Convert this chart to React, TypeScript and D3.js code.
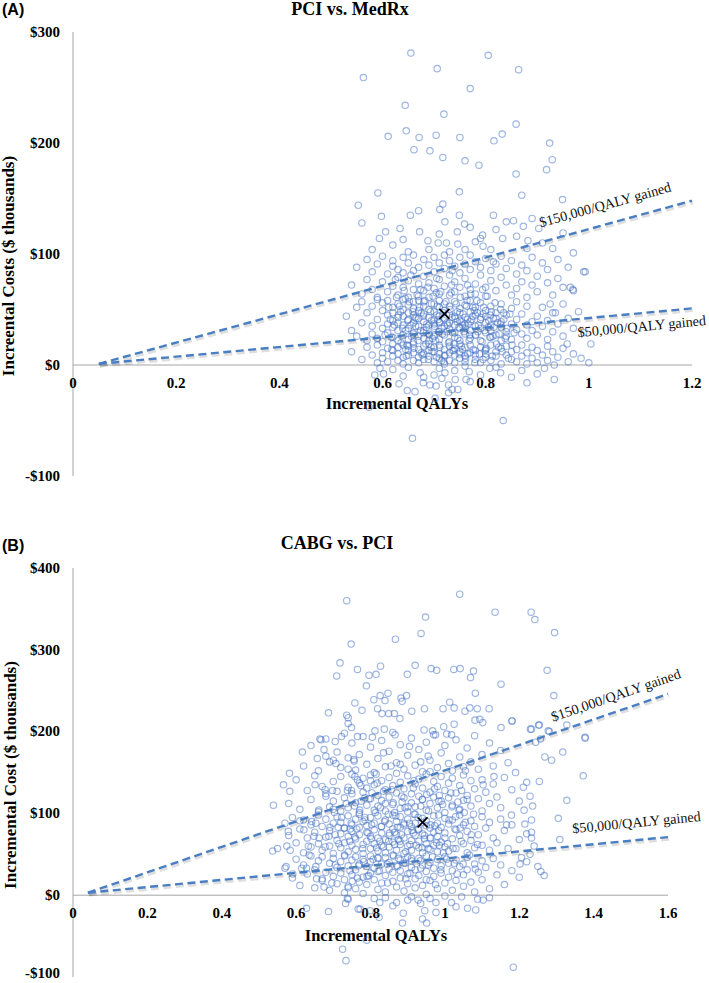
import React from "react";
import * as d3 from "d3";

// ---------- DATA ----------
const titleA = "PCI vs. MedRx";
const titleB = "CABG vs. PCI";
const tagA = "(A)";
const tagB = "(B)";
const yLabelA = "Increental Costs ($ thousands)";
const yLabelB = "Incremental Cost ($ thousands)";
const xLabel = "Incremental QALYs";

const xTicksA = [0, 0.2, 0.4, 0.6, 0.8, 1, 1.2];
const yTicksA = [-100, 0, 100, 200, 300];
const xTicksB = [0, 0.2, 0.4, 0.6, 0.8, 1, 1.2, 1.4, 1.6];
const yTicksB = [-100, 0, 100, 200, 300, 400];

// WTP threshold lines (QALY, $ thousands)
const wtpA = [
  { label: "$150,000/QALY gained", from: [0.05, 1], to: [1.2, 148] },
  { label: "$50,000/QALY gained", from: [0.05, 1], to: [1.2, 51] },
];
const wtpB = [
  { label: "$150,000/QALY gained", from: [0.04, 3], to: [1.6, 246] },
  { label: "$50,000/QALY gained", from: [0.04, 3], to: [1.6, 71] },
];

const meanA = [0.72, 46];
const meanB = [0.94, 89];

// PCI vs MedRx simulations: [incremental QALY, incremental cost ($k)]
const pciMedRx = [
[.655,281],[.805,279],[.563,259],[.706,267],[.864,266],[.770,249],[.644,234],[.719,226],[.611,206],[.646,211],[.671,205],[.704,207],[.750,205],[.816,202],[.832,208],[.859,217],[.924,200],[.929,185],[.918,176],[.661,194],[.692,193],[.717,187],[.760,184],[.787,180],[.859,172],[.591,155],[.749,156],[.870,153],[.949,149],[.553,144],[.717,145],
[.598,134],[.654,135],[.711,140],[.749,135],[.854,130],[.873,125],[.634,123],[.606,120],[.672,120],[.721,129],[.759,127],[.594,114],[.745,120],[.794,117],[.833,114],[.903,123],[.688,112],[.708,110],[.724,110],[.746,109],[.780,111],[.790,114],[.795,107],[.882,112],
[.56,128],[.58,104],[.62,108],[.65,102],[.67,139],[.69,104],[.71,118],[.73,102],[.76,104],[.77,124],[.81,104],[.82,122],[.84,129],[.86,116],[.88,105],[.89,132],[.91,110],[.93,105],[.95,119],[.97,101],[.64,113],[.815,135],
[.993,84],[.969,68],[.964,70],[1.0,2],[1.004,19],[.958,19],[.935,47],[.925,55],
[.54,72],[.55,88],[.56,64],[.57,95],[.57,77],[.58,68],[.58,84],[.59,91],[.59,61],[.60,75],[.60,98],[.61,82],[.61,66],[.62,89],[.62,71],[.62,94],[.63,63],[.63,79],[.63,86],[.64,97],[.64,70],[.64,83],[.65,61],[.65,76],[.65,92],[.66,68],[.66,85],[.66,99],[.67,73],[.67,62],[.67,88],[.68,80],[.68,95],[.68,67],[.69,74],[.69,90],[.69,61],[.70,84],[.70,69],[.70,97],[.71,77],[.71,64],[.71,92],[.72,87],[.72,71],[.72,99],[.73,81],[.73,63],[.73,94],[.74,75],[.74,89],[.74,66],[.75,83],[.75,97],[.75,70],[.76,62],[.76,78],[.76,91],[.77,86],[.77,68],[.77,99],[.78,73],[.78,93],[.78,64],[.79,81],[.79,88],[.80,70],[.80,96],[.80,62],[.81,85],[.81,76],[.82,91],[.82,67],[.83,79],[.83,98],[.84,72],[.84,87],[.85,63],[.85,94],[.86,82],[.86,69],[.87,90],[.87,75],[.88,61],[.88,85],[.89,97],[.89,72],[.90,80],[.90,66],[.91,92],[.92,74],[.92,86],[.93,63],[.94,95],[.94,78],[.95,70],[.96,88],[.97,67],[.99,84],[.705,78],[.735,85],[.765,72],[.815,93],[.655,81],[.625,77],
[.53,44],[.54,31],[.55,52],[.55,26],[.56,38],[.56,57],[.57,22],[.57,47],[.58,35],[.58,53],[.58,28],[.59,41],[.59,59],[.59,24],[.60,33],[.60,49],[.60,21],[.60,56],[.61,37],[.61,45],[.61,29],[.61,58],[.62,25],[.62,40],[.62,52],[.62,34],[.62,47],[.63,22],[.63,43],[.63,55],[.63,31],[.63,38],[.64,27],[.64,50],[.64,36],[.64,59],[.64,44],[.65,23],[.65,41],[.65,33],[.65,54],[.65,47],[.66,29],[.66,38],[.66,57],[.66,21],[.66,45],[.66,51],[.67,35],[.67,26],[.67,49],[.67,42],[.67,58],[.68,31],[.68,53],[.68,24],[.68,39],[.68,46],[.68,57],[.69,28],[.69,36],[.69,50],[.69,43],[.69,22],[.70,33],[.70,55],[.70,41],[.70,26],[.70,48],[.70,37],[.71,30],[.71,52],[.71,44],[.71,23],[.71,39],[.71,58],[.72,35],[.72,27],[.72,49],[.72,42],[.72,55],[.73,32],[.73,46],[.73,21],[.73,38],[.73,53],[.74,25],[.74,44],[.74,36],[.74,57],[.74,29],[.75,40],[.75,51],[.75,33],[.75,22],[.75,47],[.76,37],[.76,28],[.76,54],[.76,43],[.77,31],[.77,48],[.77,24],[.77,39],[.77,58],[.78,35],[.78,45],[.78,27],[.78,52],[.79,33],[.79,41],[.79,22],[.79,56],[.80,38],[.80,29],[.80,49],[.80,44],[.81,25],[.81,36],[.81,53],[.81,31],[.82,42],[.82,27],[.82,47],[.83,34],[.83,22],[.83,55],[.83,39],[.84,30],[.84,45],[.84,26],[.85,37],[.85,51],[.85,23],[.86,41],[.86,32],[.86,57],[.87,28],[.87,46],[.88,36],[.88,24],[.88,53],[.89,39],[.89,31],[.90,44],[.90,27],[.91,35],[.91,52],[.92,23],[.92,40],[.93,47],[.93,30],[.94,37],[.95,26],[.95,55],[.96,42],[.97,33],[.98,48],[.99,29],[.615,41],[.645,31],[.675,47],[.685,34],[.695,40],[.705,45],[.715,33],[.725,38],[.735,43],[.745,48],[.755,36],[.765,41],[.775,44],[.785,30],[.795,46],[.805,34],[.635,48],[.655,36],[.665,42],[.695,55],[.725,30],[.745,39],[.775,52],[.815,42],[.835,47],
[.54,12],[.56,5],[.57,16],[.58,9],[.59,2],[.59,18],[.60,11],[.60,6],[.61,15],[.61,3],[.62,8],[.62,19],[.62,13],[.63,4],[.63,16],[.63,10],[.64,7],[.64,18],[.64,1],[.65,13],[.65,9],[.65,17],[.66,4],[.66,11],[.66,19],[.67,7],[.67,14],[.67,2],[.68,10],[.68,17],[.68,5],[.69,13],[.69,8],[.69,19],[.70,3],[.70,12],[.70,16],[.71,6],[.71,10],[.71,18],[.72,1],[.72,14],[.72,8],[.73,11],[.73,17],[.73,4],[.74,9],[.74,15],[.74,2],[.75,12],[.75,19],[.75,6],[.76,16],[.76,8],[.76,3],[.77,11],[.77,18],[.78,5],[.78,13],[.78,9],[.79,16],[.79,2],[.80,10],[.80,14],[.80,7],[.81,18],[.81,4],[.82,12],[.82,8],[.83,15],[.83,1],[.84,9],[.84,17],[.85,5],[.85,12],[.86,14],[.86,3],[.87,8],[.87,18],[.88,11],[.89,6],[.89,16],[.90,2],[.90,13],[.91,9],[.92,17],[.92,4],[.93,12],[.94,7],[.95,15],[.96,3],[.97,10],[.985,6],[.675,11],[.705,7],[.735,13],[.765,10],[.795,5],[.825,16],[.645,14],[.755,14],[.715,4],
[.605,27],[.612,52],[.618,14],[.623,36],[.627,61],[.631,45],[.636,20],[.639,33],[.642,67],[.646,8],[.649,40],[.652,57],[.656,26],[.659,48],[.661,15],[.664,35],[.667,63],[.669,22],[.672,52],[.674,31],[.677,9],[.679,44],[.682,58],[.684,19],[.686,37],[.688,70],[.691,27],[.693,48],[.696,12],[.698,62],[.701,35],[.703,22],[.706,53],[.708,41],[.711,16],[.713,66],[.716,28],[.718,47],[.721,9],[.723,57],[.726,36],[.728,20],[.731,50],[.733,65],[.736,29],[.738,13],[.741,42],[.743,55],[.746,24],[.748,34],[.751,61],[.753,17],[.756,46],[.758,30],[.761,6],[.763,53],[.766,37],[.768,22],[.771,64],[.773,41],[.776,14],[.778,49],[.781,27],[.783,58],[.786,36],[.788,10],[.791,43],[.793,21],[.796,52],[.798,31],[.801,15],[.803,62],[.806,40],[.808,25],[.811,48],[.813,8],[.816,34],[.818,56],[.821,19],[.823,38],[.826,28],[.829,50],[.832,12],[.835,41],[.838,24],[.841,33],[.844,6],[.847,46],[.851,18],[.855,29],
[.617,25],[.633,53],[.648,18],[.663,43],[.679,29],[.694,16],[.709,30],[.724,45],[.739,19],[.754,39],[.769,27],[.784,47],[.799,13],[.814,26],[.829,37],[.644,60],[.674,68],[.704,65],[.734,72],[.764,58],[.794,68],[.689,5],[.719,3],[.749,10],[.779,2],[.809,45],[.659,28],[.711,38],[.761,33],[.697,24],
[.585,-9],[.602,-8],[.632,-17],[.648,-23],[.663,-24],[.679,-16],[.692,-18],[.704,-19],[.728,-18],[.728,-25],[.735,-22],[.746,-22],[.741,-13],[.762,-13],[.768,-6],[.673,-7],[.700,-9],[.721,-7],[.829,-7],[.808,-3],[.933,-13],[.914,-3],[.702,-30],[.834,-50],[.658,-66],[.574,-38],[.62,-4],[.65,-2],[.68,-11],[.71,-3],[.74,-5],[.77,-15],[.79,-9],[.82,-2],[.85,-11],[.87,-5],[.90,-8],[.64,-10],[.76,-1],[.715,-12],[.595,-3],[.88,-16],[.933,0],[.88,1]
];

// CABG vs PCI simulations: [incremental QALY, incremental cost ($k)]
const cabgPci = [
[.736,360],[1.040,368],[.948,340],[1.135,346],[1.232,346],[1.242,337],[1.295,321],[.748,307],[.867,313],[.936,320],[.718,284],[.709,268],[.765,276],[.796,269],[.815,270],[.827,280],[.899,270],[.920,281],[.963,277],[.978,275],[1.024,276],[1.041,277],[1.077,274],[1.069,266],[1.151,258],[1.275,275],[1.293,244],[.789,256],
[.687,223],[.758,235],[.777,226],[.809,239],[.826,244],[.839,238],[.847,247],[.819,228],[.831,222],[.849,222],[.864,222],[.879,216],[.882,241],[.897,244],[.885,237],[.911,225],[.945,228],[.995,228],[1.013,236],[1.025,229],[1.054,225],[1.067,229],[1.087,228],[1.082,247],[1.081,214],[1.094,215],[1.119,228],[1.102,211],[.740,217],[.749,205],[1.180,213],[1.151,205],[1.230,203],[1.252,208],[1.278,201],[1.328,208],[1.377,193],[1.025,209],[.997,206],[1.018,196],[.812,201],[.837,203],[.866,196],[.944,202],[.967,201],[.975,196],[.664,191],[.722,194],[.765,194],
[.736,220],[.740,210],[.667,190],[.617,175],[.675,178],[.680,170],[.657,167],[.700,165],[.707,161],[.756,164],[.740,154],[.758,145],[.582,149],[.566,135],[.583,127],[.651,135],[.678,129],[.698,128],[.680,124],[.749,128],[.539,110],[.661,104],[.703,101],[.610,91],[.642,90],[.653,88],[.621,80],[.579,78],[.691,83],[.713,83],[.648,72],[.662,70],[.688,72],[.633,60],[.575,60],[.584,55],[.537,54],[.635,49],[.678,59],[.573,35],[.591,26],[.615,33],[.628,33],[.653,35],[.655,20],[.670,20],[.675,10],[.696,15],[.740,9],
[1.181,213],[1.233,203],[1.254,208],[1.281,200],[1.377,192],[1.372,146],[1.257,191],[1.244,187],[1.287,165],[1.317,175],[1.269,169],[1.254,139],[1.211,132],[1.229,121],[1.328,116],[1.305,94],[1.236,109],[1.213,104],[1.233,92],[1.215,87],[1.233,77],[1.233,70],[1.309,68],[1.229,50],[1.206,46],[1.202,38],[1.258,29],[1.267,24],[1.179,98],[1.166,86],[1.103,135],[1.132,145],
[.62,158],[.64,183],[.66,152],[.68,191],[.69,163],[.71,175],[.72,156],[.73,198],[.74,168],[.75,186],[.76,153],[.77,172],[.78,194],[.79,160],[.80,181],[.81,150],[.82,167],[.83,189],[.84,157],[.85,176],[.86,199],[.87,162],[.88,184],[.89,154],[.90,171],[.91,192],[.92,159],[.93,178],[.94,151],[.95,187],[.96,165],[.97,196],[.98,156],[.99,174],[1.00,183],[1.01,161],[1.02,152],[1.03,190],[1.04,169],[1.05,157],[1.06,180],[1.07,163],[1.08,195],[1.09,154],[1.10,172],[1.12,186],[1.13,158],[1.15,177],[1.17,162],[1.19,150],[.705,188],[.755,166],[.805,193],[.855,158],[.905,182],[.955,170],[1.005,197],[1.055,152],[.835,174],[.935,163],
[.58,112],[.60,141],[.61,105],[.63,128],[.64,117],[.65,146],[.66,102],[.67,133],[.68,121],[.69,108],[.70,139],[.70,115],[.71,127],[.72,103],[.72,145],[.73,119],[.74,132],[.74,107],[.75,124],[.75,148],[.76,113],[.77,137],[.77,101],[.78,126],[.78,143],[.79,110],[.79,131],[.80,118],[.80,147],[.81,104],[.81,135],[.82,122],[.82,109],[.83,140],[.83,116],[.84,129],[.84,103],[.85,144],[.85,120],[.86,111],[.86,134],[.87,125],[.87,149],[.88,106],[.88,138],[.89,119],[.89,130],[.90,102],[.90,146],[.91,124],[.91,113],[.92,136],[.92,108],[.93,142],[.93,121],[.94,117],[.94,131],[.95,104],[.95,148],[.96,126],[.96,112],[.97,139],[.97,120],[.98,107],[.98,133],[.99,145],[.99,115],[1.00,128],[1.00,101],[1.01,137],[1.01,119],[1.02,110],[1.02,143],[1.03,125],[1.04,105],[1.04,134],[1.05,147],[1.05,116],[1.06,122],[1.07,140],[1.07,109],[1.08,130],[1.09,118],[1.10,103],[1.10,141],[1.11,126],[1.12,112],[1.13,136],[1.14,120],[1.15,107],[1.16,144],[1.18,129],[1.20,115],[1.22,138],[.735,112],[.785,119],[.835,127],[.885,114],[.935,109],[.985,122],[1.035,114],[.765,141],[.815,148],[.865,101],[.915,131],
[.55,57],[.57,88],[.58,73],[.59,95],[.60,64],[.61,81],[.62,52],[.62,92],[.63,70],[.64,86],[.64,59],[.65,77],[.66,98],[.66,63],[.67,84],[.67,55],[.68,71],[.68,93],[.69,60],[.69,79],[.70,88],[.70,51],[.71,67],[.71,96],[.72,75],[.72,58],[.72,89],[.73,82],[.73,64],[.74,97],[.74,53],[.74,72],[.75,86],[.75,61],[.75,78],[.76,93],[.76,56],[.76,69],[.77,83],[.77,74],[.77,99],[.78,62],[.78,90],[.78,51],[.79,77],[.79,85],[.79,66],[.80,95],[.80,57],[.80,72],[.81,88],[.81,63],[.81,80],[.82,54],[.82,97],[.82,70],[.83,84],[.83,61],[.83,76],[.84,92],[.84,52],[.84,68],[.85,87],[.85,73],[.85,59],[.86,98],[.86,81],[.86,65],[.87,55],[.87,90],[.87,74],[.88,83],[.88,62],[.88,96],[.89,70],[.89,51],[.89,86],[.90,78],[.90,60],[.90,93],[.91,67],[.91,84],[.91,55],[.92,99],[.92,73],[.92,88],[.93,58],[.93,81],[.93,66],[.94,94],[.94,52],[.94,75],[.95,85],[.95,63],[.95,91],[.96,70],[.96,56],[.96,82],[.97,97],[.97,61],[.97,77],[.98,88],[.98,53],[.98,72],[.99,83],[.99,65],[1.00,94],[1.00,59],[1.00,76],[1.01,87],[1.01,54],[1.02,69],[1.02,92],[1.03,80],[1.03,57],[1.04,98],[1.04,73],[1.05,63],[1.05,86],[1.06,52],[1.06,78],[1.07,91],[1.07,67],[1.08,58],[1.08,84],[1.09,74],[1.10,96],[1.10,61],[1.11,82],[1.12,55],[1.12,89],[1.13,70],[1.14,64],[1.15,93],[1.16,79],[1.17,57],[1.18,86],[1.20,68],[1.22,75],[1.24,60],[.705,74],[.745,81],[.785,95],[.825,66],[.865,77],[.905,88],[.945,69],[.985,61],[.875,68],[.915,76],[.955,57],
[.57,33],[.59,21],[.60,44],[.61,12],[.62,37],[.63,26],[.64,48],[.65,9],[.65,31],[.66,42],[.67,18],[.67,47],[.68,28],[.69,39],[.69,6],[.70,23],[.70,45],[.71,34],[.71,14],[.72,41],[.72,27],[.73,3],[.73,49],[.73,19],[.74,36],[.74,11],[.75,43],[.75,25],[.76,31],[.76,8],[.76,47],[.77,38],[.77,16],[.78,22],[.78,44],[.78,2],[.79,35],[.79,13],[.80,41],[.80,27],[.80,48],[.81,19],[.81,33],[.82,7],[.82,45],[.82,29],[.83,38],[.83,15],[.84,24],[.84,46],[.84,4],[.85,32],[.85,40],[.86,17],[.86,28],[.86,49],[.87,10],[.87,36],[.88,43],[.88,21],[.88,30],[.89,5],[.89,39],[.90,26],[.90,47],[.90,14],[.91,34],[.91,42],[.92,20],[.92,9],[.92,31],[.93,45],[.93,24],[.94,37],[.94,12],[.95,29],[.95,48],[.95,1],[.96,40],[.96,18],[.97,33],[.97,23],[.98,44],[.98,8],[.99,36],[.99,27],[1.00,15],[1.00,47],[1.01,22],[1.01,39],[1.02,30],[1.02,6],[1.03,43],[1.03,18],[1.04,35],[1.05,25],[1.05,11],[1.06,46],[1.06,31],[1.07,16],[1.08,38],[1.08,4],[1.09,28],[1.10,42],[1.10,19],[1.11,34],[1.12,8],[1.13,45],[1.14,25],[1.15,37],[1.16,13],[1.18,30],[1.20,22],[1.22,41],[1.25,35],[.705,37],[.745,30],[.795,24],[.845,38],[.895,20],[.935,33],[.975,13],[1.025,39],[.875,45],[.765,21],
[.722,95],[.731,48],[.738,128],[.744,66],[.751,17],[.757,109],[.763,81],[.768,36],[.774,134],[.779,57],[.785,92],[.791,23],[.796,118],[.802,69],[.807,44],[.813,101],[.818,137],[.824,30],[.829,84],[.835,59],[.840,112],[.846,15],[.851,76],[.857,129],[.862,48],[.868,97],[.873,35],[.879,66],[.884,121],[.890,88],[.895,53],[.901,108],[.906,27],[.912,79],[.917,140],[.923,61],[.928,95],[.934,42],[.939,117],[.945,73],[.950,19],[.956,103],[.961,86],[.967,47],[.972,130],[.978,64],[.983,98],[.989,31],[.994,111],[1.000,70],[1.005,44],[1.011,92],[1.016,125],[1.022,57],[1.027,81],[1.033,26],[1.038,104],[1.044,66],[1.049,38],[1.055,89],[1.060,117],[1.066,49],[1.071,74],[1.077,99],[1.082,32],[1.088,62],
[.748,88],[.771,104],[.793,76],[.816,58],[.838,90],[.861,113],[.883,74],[.906,62],[.928,80],[.951,123],[.973,85],[.996,52],[1.019,108],[1.041,82],[.782,41],[.827,107],[.872,83],[.917,99],[.962,70],[1.007,63],[1.052,101],[.804,125],[.849,66],[.894,39],[.939,58],[.984,115],[1.029,96],[.758,71],[.803,86],[.848,99],[.893,107],[.938,89],[.983,79],[.865,62],[.910,45],[.955,37],[.820,46],[.775,115],[.730,82],[.700,105],[.715,63],[.960,151],[.880,160],[.800,140],[1.045,128],
[.628,-16],[.687,-20],[.733,-10],[.740,-5],[.772,-17],[.799,-19],[.823,-27],[.825,-9],[.790,-55],[.725,-66],[.734,-80],[.870,-9],[.888,-22],[.886,-34],[.900,-6],[.928,-6],[.935,-10],[.940,-29],[.946,-19],[.951,-34],[.976,-9],[.976,-21],[1.018,-9],[1.030,-14],[1.045,-2],[1.061,-16],[1.083,-18],[1.088,-5],[1.103,-6],[1.184,-88],[.738,-4],[.767,-17],[.84,-3],[.91,-2],[.96,-4],[1.00,-1],[.86,-13],[.81,-4],[1.12,-3]
];

// ---------- LAYOUT ----------
const SERIF = "'Liberation Serif', 'Times New Roman', serif";
const SANS = "'Liberation Sans', Arial, sans-serif";
const POINT = "#4472C4";
const LINE = "#4A7EC2";
const AXIS = "#A6A6A6";

type Wtp = { label: string; from: number[]; to: number[] };

type PanelCfg = {
  title: string;
  tag: string;
  yLabel: string;
  xTicks: number[];
  yTicks: number[];
  points: number[][];
  mean: number[];
  wtp: Wtp[];
  xDomain: [number, number];
  yDomain: [number, number];
  left: number; right: number; top: number; bottom: number;
  titleX: number; titleY: number; tagY: number;
  xTickY: number; xLabelX: number; xLabelY: number;
  yLabelX: number; yLabelY: number;
  labelAt: number[]; labelOffset: number[];
};

function Panel({ c }: { c: PanelCfg }) {
  const x = d3.scaleLinear().domain(c.xDomain).range([c.left, c.right]);
  const y = d3.scaleLinear().domain(c.yDomain).range([c.bottom, c.top]);
  const line = d3.line<number[]>().x((d) => x(d[0])).y((d) => y(d[1]));
  const fmtY = (v: number) => (v < 0 ? "-$" + Math.abs(v) : "$" + v);
  return (
    <g>
      <text x={2} y={c.tagY} fontFamily={SANS} fontWeight="bold" fontSize={16}>{c.tag}</text>
      <text x={c.titleX} y={c.titleY} textAnchor="middle" fontFamily={SERIF} fontWeight="bold" fontSize={18}>{c.title}</text>
      {/* axes */}
      <line x1={x(0)} x2={x(0)} y1={c.top} y2={c.bottom} stroke={AXIS} strokeWidth={1} />
      <line x1={c.left} x2={c.right} y1={y(0)} y2={y(0)} stroke={AXIS} strokeWidth={1} />
      {c.yTicks.map((t) => (
        <text key={"y" + t} x={60} y={Math.min(y(t), 973)} dy="0.32em" textAnchor="end" fontFamily={SERIF} fontWeight="bold" fontSize={15}>{fmtY(t)}</text>
      ))}
      {c.xTicks.map((t) => (
        <text key={"x" + t} x={x(t)} y={c.xTickY} textAnchor="middle" fontFamily={SERIF} fontWeight="bold" fontSize={15}>{String(t)}</text>
      ))}
      <text x={c.xLabelX} y={c.xLabelY} textAnchor="middle" fontFamily={SERIF} fontWeight="bold" fontSize={16.5}>{xLabel}</text>
      <text transform={`translate(${c.yLabelX},${c.yLabelY}) rotate(-90)`} textAnchor="middle" fontFamily={SERIF} fontWeight="bold" fontSize={17}>{c.yLabel}</text>
      {/* points */}
      <g fill="none" stroke={POINT} strokeOpacity={0.52} strokeWidth={1.15}>
        {c.points.map((p, i) => (
          <circle key={i} cx={x(p[0])} cy={y(p[1])} r={3.2} />
        ))}
      </g>
      {/* WTP lines */}
      {c.wtp.map((w, i) => {
        const pts = [w.from, w.to];
        const x0 = x(w.from[0]), y0 = y(w.from[1]), x1 = x(w.to[0]), y1 = y(w.to[1]);
        const ang = (Math.atan2(y1 - y0, x1 - x0) * 180) / Math.PI;
        const t = c.labelAt[i];
        const v = w.from[1] + ((w.to[1] - w.from[1]) * (t - w.from[0])) / (w.to[0] - w.from[0]);
        const lx = x(t);
        const ly = y(v) + c.labelOffset[i];
        return (
          <g key={i}>
            <path d={line(pts) || ""} transform="translate(1,2.2)" stroke="#000" strokeOpacity={0.13} strokeWidth={3} fill="none" strokeDasharray="8,4.5" />
            <path d={line(pts) || ""} stroke={LINE} strokeWidth={2.4} fill="none" strokeDasharray="8,4.5" />
            <text transform={`translate(${lx},${ly}) rotate(${ang})`} fontFamily={SERIF} fontSize={14.2} fill="#111">{w.label}</text>
          </g>
        );
      })}
      {/* mean */}
      <path d="M-5,-5L5,5M-5,5L5,-5" transform={`translate(${x(c.mean[0])},${y(c.mean[1])})`} stroke="#000" strokeWidth={1.6} fill="none" />
    </g>
  );
}

const cfgA: PanelCfg = {
  title: titleA, tag: tagA, yLabel: yLabelA,
  xTicks: xTicksA, yTicks: yTicksA, points: pciMedRx, mean: meanA, wtp: wtpA,
  xDomain: [0, 1.2], yDomain: [-100, 300],
  left: 73, right: 692, top: 32, bottom: 476,
  titleX: 350, titleY: 15, tagY: 15,
  xTickY: 388, xLabelX: 397, xLabelY: 409,
  yLabelX: 14, yLabelY: 266,
  labelAt: [0.907, 0.979], labelOffset: [-15, 18],
};

const cfgB: PanelCfg = {
  title: titleB, tag: tagB, yLabel: yLabelB,
  xTicks: xTicksB, yTicks: yTicksB, points: cabgPci, mean: meanB, wtp: wtpB,
  xDomain: [0, 1.6], yDomain: [-100, 400],
  left: 73, right: 668, top: 568, bottom: 977,
  titleX: 337, titleY: 549, tagY: 551,
  xTickY: 918, xLabelX: 376, xLabelY: 941,
  yLabelX: 16, yLabelY: 775,
  labelAt: [1.291, 1.344], labelOffset: [-11.5, -13],
};

export default function App() {
  return (
    <svg width={709} height={983} style={{ position: "absolute", left: 0, top: 0, background: "#fff" }}>
      <rect width={709} height={983} fill="#fff" />
      <Panel c={cfgA} />
      <Panel c={cfgB} />
    </svg>
  );
}
